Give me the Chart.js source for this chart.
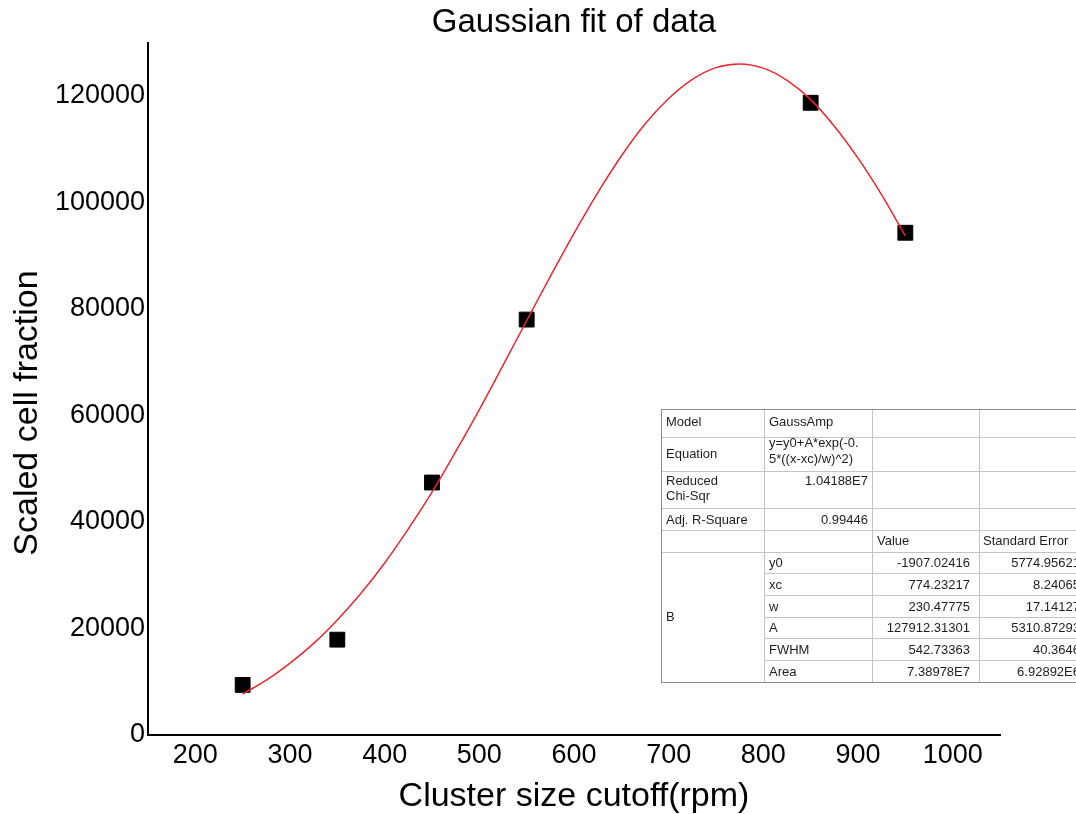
<!DOCTYPE html>
<html>
<head>
<meta charset="utf-8">
<script src="https://cdn.jsdelivr.net/npm/chart.js@4.4.1/dist/chart.umd.min.js"></script>
<style>
  html, body { margin: 0; padding: 0; background: #fff; }
  #wrap { width: 1076px; height: 814px; position: relative; }
</style>
</head>
<body>
<div id="wrap"><canvas id="fitChart"></canvas></div>
<script>
// measured points
const cutoffs = [250, 350, 450, 550, 850, 950];
const fractions = [9400, 17900, 47400, 78000, 118700, 94300];

// fitted curve
const curveX = [250, 275, 300, 325, 350, 375, 400, 425, 450, 475, 500, 525, 550, 575, 600, 625, 650, 675, 700, 725, 750, 775, 800, 825, 850, 875, 900, 925, 950];
const curveY = [7700, 10300, 13500, 17200, 21600, 26600, 32300, 38700, 45600, 53200, 61100, 69400, 77800, 86100, 94200, 101800, 108700, 114700, 119500, 123100, 125300, 126000, 125200, 122900, 119300, 114300, 108300, 101400, 93700];

const xTicks = [200, 300, 400, 500, 600, 700, 800, 900, 1000];
const yTicks = [0, 20000, 40000, 60000, 80000, 100000, 120000];

const yTitle = 'Scaled cell fraction';

// fit report table
const fitInfo = [
  ['Model', 'GaussAmp'],
  ['Equation', 'y=y0+A*exp(-0.|5*((x-xc)/w)^2)'],
  ['Reduced|Chi-Sqr', '1.04188E7'],
  ['Adj. R-Square', '0.99446']
];
const colHeads = ['Value', 'Standard Error'];
const paramNames = ['y0', 'xc', 'w', 'A', 'FWHM', 'Area'];
const paramValues = ['-1907.02416', '774.23217', '230.47775', '127912.31301', '542.73363', '7.38978E7'];
const paramErrors = ['5774.95621', '8.24065', '17.14127', '5310.87293', '40.3646', '6.92892E6'];

const FONT = '"Liberation Sans", Arial, sans-serif';

// y axis title sits a little lower than Chart.js would centre it
const yTitlePlugin = {
  id: 'yTitlePlugin',
  afterDraw(chart) {
    const ctx = chart.ctx;
    ctx.save();
    ctx.translate(28, 413);
    ctx.rotate(-Math.PI / 2);
    ctx.fillStyle = '#000';
    ctx.font = '34px ' + FONT;
    ctx.textAlign = 'center';
    ctx.textBaseline = 'middle';
    ctx.fillText(yTitle, 0, 0);
    ctx.restore();
  }
};

const fitTable = {
  id: 'fitTable',
  afterDraw(chart) {
    const ctx = chart.ctx;
    const cx = [661, 764, 872, 979, 1086];
    const ry = [409, 437, 471, 508, 530, 552, 573, 595, 617, 638, 660, 682];
    ctx.save();
    ctx.fillStyle = '#fff';
    ctx.fillRect(cx[0], ry[0], cx[4] - cx[0], ry[11] - ry[0]);
    ctx.strokeStyle = '#c4c4c4';
    ctx.lineWidth = 1;
    ctx.beginPath();
    for (let i = 1; i < ry.length - 1; i++) {
      const x0 = i > 5 ? cx[1] : cx[0];
      ctx.moveTo(x0, ry[i] + 0.5);
      ctx.lineTo(cx[4], ry[i] + 0.5);
    }
    for (let j = 1; j < 4; j++) {
      ctx.moveTo(cx[j] + 0.5, ry[0]);
      ctx.lineTo(cx[j] + 0.5, ry[11]);
    }
    ctx.stroke();
    ctx.strokeStyle = '#8a8a8a';
    ctx.strokeRect(cx[0] + 0.5, ry[0] + 0.5, cx[4] - cx[0], ry[11] - ry[0]);

    ctx.fillStyle = '#1e1e1e';
    ctx.font = '13px ' + FONT;
    ctx.textBaseline = 'middle';
    const txt = (s, x, y, align) => { ctx.textAlign = align || 'left'; ctx.fillText(s, x, y); };

    txt(fitInfo[0][0], 666, 422);
    txt(fitInfo[0][1], 769, 422);
    txt(fitInfo[1][0], 666, 454);
    const eq = fitInfo[1][1].split('|');
    txt(eq[0], 769, 443);
    txt(eq[1], 769, 459);
    const chi = fitInfo[2][0].split('|');
    txt(chi[0], 666, 481);
    txt(chi[1], 666, 496);
    txt(fitInfo[2][1], 868, 481, 'right');
    txt(fitInfo[3][0], 666, 520);
    txt(fitInfo[3][1], 868, 520, 'right');
    txt(colHeads[0], 877, 541);
    txt(colHeads[1], 983, 541);
    txt('B', 666, 617);
    for (let i = 0; i < paramNames.length; i++) {
      const y = (ry[i + 5] + ry[i + 6]) / 2 + 1;
      txt(paramNames[i], 769, y);
      txt(paramValues[i], 970, y, 'right');
      txt(paramErrors[i], 1080, y, 'right');
    }
    ctx.restore();
  }
};

const ctx = document.getElementById('fitChart').getContext('2d');
new Chart(ctx, {
  type: 'scatter',
  data: {
    datasets: [
      {
        label: 'Gauss fit',
        data: curveX.map((x, i) => ({ x: x, y: curveY[i] })),
        showLine: true,
        borderColor: 'rgb(232, 40, 48)',
        borderWidth: 1.5,
        pointRadius: 0,
        tension: 0.4
      },
      {
        label: 'Data',
        data: cutoffs.map((x, i) => ({ x: x, y: fractions[i] })),
        pointStyle: 'rect',
        pointRadius: 10.5,
        backgroundColor: '#000',
        borderColor: '#000',
        borderWidth: 1
      }
    ]
  },
  options: {
    responsive: true,
    maintainAspectRatio: false,
    animation: false,
    layout: { padding: { left: 0, right: 76, top: 0, bottom: 0 } },
    plugins: {
      legend: { display: false },
      tooltip: { enabled: false },
      title: {
        display: true,
        fullSize: false,
        text: 'Gaussian fit of data',
        color: '#000',
        font: { family: FONT, size: 33, weight: 'normal', lineHeight: 1.2 },
        padding: { top: 3, bottom: 0 }
      }
    },
    scales: {
      x: {
        type: 'linear',
        min: 150,
        max: 1050,
        afterBuildTicks: s => { s.ticks = xTicks.map(v => ({ value: v })); },
        afterFit: s => { s.height = 79; },
        grid: { display: false, drawTicks: false },
        border: { display: true, color: '#000', width: 2 },
        ticks: { color: '#000', padding: 4, font: { family: FONT, size: 27 }, maxRotation: 0, callback: v => String(v) },
        title: {
          display: true,
          text: 'Cluster size cutoff(rpm)',
          color: '#000',
          font: { family: FONT, size: 34, lineHeight: 1 },
          padding: { top: 0, bottom: 0 }
        }
      },
      y: {
        type: 'linear',
        min: 0,
        max: 130000,
        afterBuildTicks: s => { s.ticks = yTicks.map(v => ({ value: v })); },
        afterFit: s => { s.width = 148; },
        grid: { display: false, drawTicks: false },
        border: { display: true, color: '#000', width: 2 },
        ticks: { color: '#000', padding: 3, font: { family: FONT, size: 27 }, callback: v => String(v) },
        title: { display: false }
      }
    }
  },
  plugins: [fitTable, yTitlePlugin]
});
</script>
</body>
</html>
